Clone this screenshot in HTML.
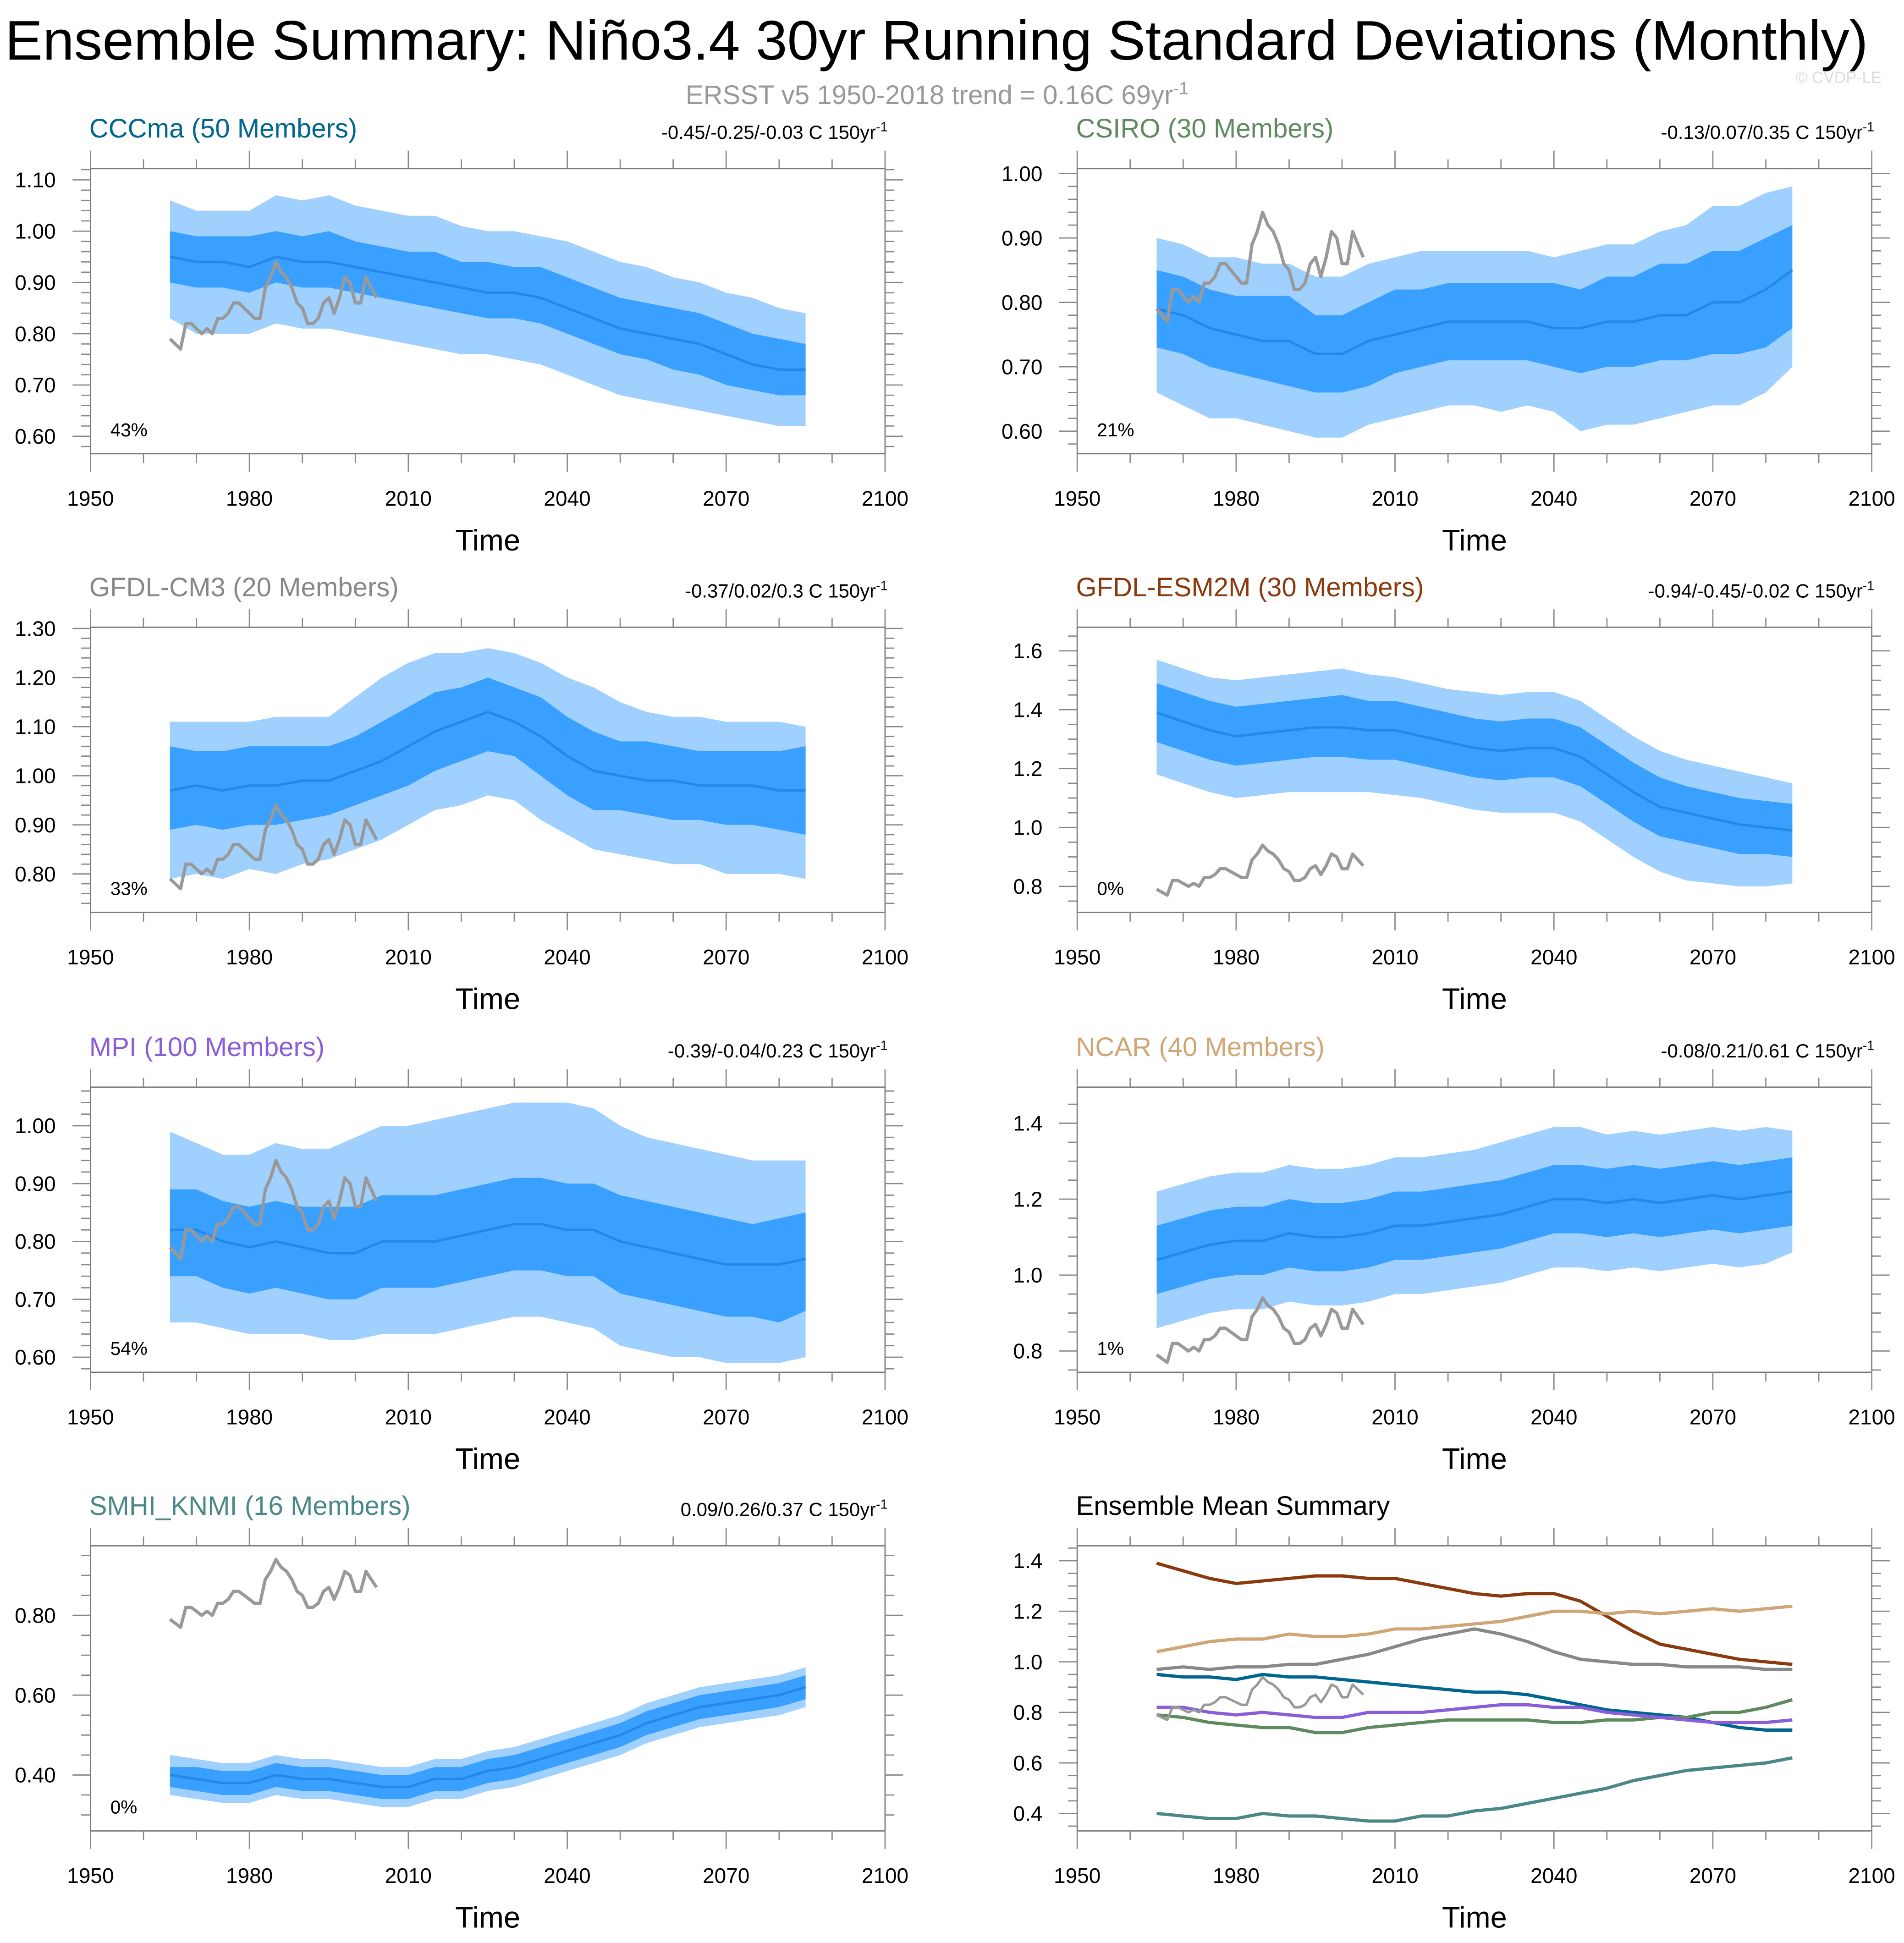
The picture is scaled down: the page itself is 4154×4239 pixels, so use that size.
<!DOCTYPE html>
<html><head><meta charset="utf-8"><style>
html,body{margin:0;padding:0;background:#fff;}
svg{display:block;font-family:"Liberation Sans",Arial,sans-serif;}
</style></head><body>
<svg id="chart" xmlns="http://www.w3.org/2000/svg" width="4154" height="4239" viewBox="0 0 1536 1567.4">
<rect x="0" y="0" width="1536" height="1567.4" fill="#fff"/>
<text x="4" y="48" font-size="45" fill="#000" textLength="1503" lengthAdjust="spacingAndGlyphs">Ensemble Summary: Niño3.4 30yr Running Standard Deviations (Monthly)</text>
<text x="756" y="84" font-size="21.5" fill="#999" text-anchor="middle">ERSST v5 1950-2018 trend = 0.16C 69yr<tspan dy="-8" font-size="14">-1</tspan></text>
<text x="1518" y="67" font-size="13" fill="#ddd" text-anchor="end">© CVDP-LE</text>
<g id="panels"></g>
</svg>
<script>
// shared data
const bandYears = [1965,1970,1975,1980,1985,1990,1995,2000,2005,2010,2015,2020,2025,2030,2035,2040,2045,2050,2055,2060,2065,2070,2075,2080,2085];
const obsYears = [1965,1966,1967,1968,1969,1970,1971,1972,1973,1974,1975,1976,1977,1978,1979,1980,1981,1982,1983,1984,1985,1986,1987,1988,1989,1990,1991,1992,1993,1994,1995,1996,1997,1998,1999,2000,2001,2002,2003,2004];
const obsValues = [.79,.78,.77,.82,.82,.81,.80,.81,.80,.83,.83,.84,.86,.86,.85,.84,.83,.83,.89,.91,.94,.92,.91,.89,.86,.85,.82,.82,.83,.86,.87,.84,.87,.91,.90,.86,.86,.91,.89,.87];
const xTickLabels = [1950,1980,2010,2040,2070,2100];

// CCCma
const cccmaMean = [.95,.94,.94,.93,.95,.94,.94,.93,.92,.91,.90,.89,.88,.88,.87,.85,.83,.81,.80,.79,.78,.76,.74,.73,.73];
const cccmaInHi = [1.00,.99,.99,.99,1.00,.99,1.00,.98,.97,.96,.96,.94,.94,.93,.93,.91,.89,.87,.86,.85,.84,.82,.80,.79,.78];
const cccmaInLo = [.90,.89,.89,.88,.90,.89,.89,.88,.87,.86,.85,.84,.83,.83,.82,.80,.78,.76,.75,.73,.72,.70,.69,.68,.68];
const cccmaOutHi = [1.06,1.04,1.04,1.04,1.07,1.06,1.07,1.05,1.04,1.03,1.03,1.01,1.00,1.00,.99,.98,.96,.94,.93,.91,.90,.88,.87,.85,.84];
const cccmaOutLo = [.83,.80,.80,.80,.82,.81,.81,.80,.79,.78,.77,.76,.76,.75,.74,.72,.70,.68,.67,.66,.65,.64,.63,.62,.62];
// CSIRO
const csiroMean = [.79,.78,.76,.75,.74,.74,.72,.72,.74,.75,.76,.77,.77,.77,.77,.76,.76,.77,.77,.78,.78,.80,.80,.82,.85];
const csiroInHi = [.85,.84,.82,.81,.81,.81,.78,.78,.80,.82,.82,.83,.83,.83,.83,.83,.82,.84,.84,.86,.86,.88,.88,.90,.92];
const csiroInLo = [.73,.72,.70,.69,.68,.67,.66,.66,.67,.69,.70,.71,.71,.71,.71,.70,.69,.70,.70,.71,.71,.72,.72,.73,.76];
const csiroOutHi = [.90,.89,.87,.87,.86,.86,.84,.84,.86,.87,.88,.88,.88,.88,.88,.87,.88,.89,.89,.91,.92,.95,.95,.97,.98];
const csiroOutLo = [.66,.64,.62,.62,.61,.60,.59,.59,.61,.62,.63,.64,.64,.63,.64,.63,.60,.61,.61,.62,.63,.64,.64,.66,.70];
// GFDL-CM3
const cm3Mean = [.97,.98,.97,.98,.98,.99,.99,1.01,1.03,1.06,1.09,1.11,1.13,1.11,1.08,1.04,1.01,1.00,.99,.99,.98,.98,.98,.97,.97];
const cm3InHi = [1.06,1.05,1.05,1.06,1.06,1.06,1.06,1.08,1.11,1.14,1.17,1.18,1.20,1.18,1.16,1.12,1.09,1.07,1.07,1.06,1.05,1.05,1.05,1.05,1.06];
const cm3InLo = [.89,.90,.89,.90,.90,.91,.92,.94,.96,.98,1.01,1.03,1.05,1.04,1.00,.96,.93,.93,.92,.91,.91,.90,.90,.89,.88];
const cm3OutHi = [1.11,1.11,1.11,1.11,1.12,1.12,1.12,1.16,1.20,1.23,1.25,1.25,1.26,1.25,1.23,1.20,1.18,1.15,1.13,1.12,1.12,1.11,1.11,1.11,1.10];
const cm3OutLo = [.79,.80,.79,.81,.80,.82,.83,.85,.87,.90,.93,.94,.96,.95,.91,.88,.85,.84,.83,.82,.82,.80,.80,.80,.79];
// GFDL-ESM2M
const esmMean = [1.39,1.36,1.33,1.31,1.32,1.33,1.34,1.34,1.33,1.33,1.31,1.29,1.27,1.26,1.27,1.27,1.24,1.18,1.12,1.07,1.05,1.03,1.01,1.00,.99];
const esmInHi = [1.49,1.46,1.43,1.41,1.42,1.43,1.44,1.45,1.43,1.43,1.41,1.39,1.37,1.36,1.37,1.37,1.34,1.28,1.22,1.17,1.14,1.12,1.10,1.09,1.08];
const esmInLo = [1.29,1.26,1.23,1.21,1.22,1.23,1.24,1.24,1.23,1.23,1.21,1.19,1.17,1.16,1.17,1.17,1.14,1.08,1.02,.97,.95,.93,.91,.91,.90];
const esmOutHi = [1.57,1.54,1.51,1.50,1.51,1.52,1.53,1.54,1.52,1.51,1.49,1.47,1.46,1.45,1.46,1.46,1.43,1.37,1.31,1.26,1.23,1.21,1.19,1.17,1.15];
const esmOutLo = [1.18,1.15,1.12,1.10,1.11,1.12,1.12,1.12,1.12,1.11,1.10,1.08,1.06,1.05,1.05,1.05,1.02,.96,.90,.85,.82,.81,.80,.80,.81];
// MPI
const mpiMean = [.82,.82,.80,.79,.80,.79,.78,.78,.80,.80,.80,.81,.82,.83,.83,.82,.82,.80,.79,.78,.77,.76,.76,.76,.77];
const mpiInHi = [.89,.89,.87,.86,.87,.86,.86,.86,.88,.88,.88,.89,.90,.91,.91,.90,.90,.88,.87,.86,.85,.84,.83,.84,.85];
const mpiInLo = [.74,.74,.72,.71,.72,.71,.70,.70,.72,.72,.72,.73,.74,.75,.75,.74,.74,.71,.70,.69,.68,.67,.67,.66,.68];
const mpiOutHi = [.99,.97,.95,.95,.97,.96,.96,.98,1.00,1.00,1.01,1.02,1.03,1.04,1.04,1.04,1.03,1.00,.98,.97,.96,.95,.94,.94,.94];
const mpiOutLo = [.66,.66,.65,.64,.64,.64,.63,.63,.64,.64,.64,.65,.66,.67,.67,.66,.65,.62,.61,.60,.60,.59,.59,.59,.60];
// NCAR
const ncarMean = [1.04,1.06,1.08,1.09,1.09,1.11,1.10,1.10,1.11,1.13,1.13,1.14,1.15,1.16,1.18,1.20,1.20,1.19,1.20,1.19,1.20,1.21,1.20,1.21,1.22];
const ncarInHi = [1.13,1.15,1.17,1.18,1.18,1.20,1.19,1.19,1.20,1.22,1.22,1.23,1.24,1.25,1.27,1.29,1.29,1.28,1.29,1.28,1.29,1.30,1.29,1.30,1.31];
const ncarInLo = [.95,.97,.99,1.00,1.00,1.02,1.01,1.01,1.02,1.04,1.04,1.05,1.06,1.07,1.09,1.11,1.11,1.10,1.11,1.10,1.11,1.12,1.11,1.12,1.13];
const ncarOutHi = [1.22,1.24,1.26,1.27,1.27,1.29,1.28,1.28,1.29,1.31,1.31,1.32,1.33,1.35,1.37,1.39,1.39,1.37,1.38,1.37,1.38,1.39,1.38,1.39,1.38];
const ncarOutLo = [.86,.88,.90,.91,.91,.93,.92,.92,.93,.95,.95,.96,.97,.98,1.00,1.02,1.02,1.01,1.02,1.01,1.02,1.03,1.02,1.03,1.06];
// SMHI_KNMI
const smhiMean = [.40,.39,.38,.38,.40,.39,.39,.38,.37,.37,.39,.39,.41,.42,.44,.46,.48,.50,.53,.55,.57,.58,.59,.60,.62];
const smhiInHi = [.42,.42,.41,.41,.43,.42,.42,.41,.40,.40,.42,.42,.44,.45,.47,.49,.51,.53,.56,.58,.60,.61,.62,.63,.65];
const smhiInLo = [.37,.36,.35,.35,.37,.36,.36,.35,.34,.34,.36,.36,.38,.39,.41,.43,.45,.47,.50,.52,.54,.55,.56,.57,.59];
const smhiOutHi = [.45,.44,.43,.43,.45,.44,.44,.43,.42,.42,.44,.44,.46,.47,.49,.51,.53,.55,.58,.60,.62,.63,.64,.65,.67];
const smhiOutLo = [.35,.34,.33,.33,.35,.34,.34,.33,.32,.32,.34,.34,.36,.37,.39,.41,.43,.45,.48,.50,.52,.53,.54,.55,.57];

const NS = "http://www.w3.org/2000/svg";
const root = document.getElementById('panels');
function mk(tag, attrs, parent){ const e=document.createElementNS(NS,tag); for(const k in attrs) e.setAttribute(k,attrs[k]); (parent||root).appendChild(e); return e; }

const panels = [
 {key:'cccma', title:'CCCma (50 Members)', color:'#00668f', x0:73, y0:136, ymin:0.566, ymax:1.122, ticks:[0.6,0.7,0.8,0.9,1.0,1.1], dec:2, minor:0.02, pct:'43%', trend:'-0.45/-0.25/-0.03 C 150yr', mean:cccmaMean, inHi:cccmaInHi, inLo:cccmaInLo, outHi:cccmaOutHi, outLo:cccmaOutLo},
 {key:'csiro', title:'CSIRO (30 Members)', color:'#5f8a5f', x0:869, y0:136, ymin:0.565, ymax:1.0077, ticks:[0.6,0.7,0.8,0.9,1.0], dec:2, minor:0.02, pct:'21%', trend:'-0.13/0.07/0.35 C 150yr', mean:csiroMean, inHi:csiroInHi, inLo:csiroInLo, outHi:csiroOutHi, outLo:csiroOutLo},
 {key:'gfdl-cm3', title:'GFDL-CM3 (20 Members)', color:'#888888', x0:73, y0:506, ymin:0.7217, ymax:1.3025, ticks:[0.8,0.9,1.0,1.1,1.2,1.3], dec:2, minor:0.02, pct:'33%', trend:'-0.37/0.02/0.3 C 150yr', mean:cm3Mean, inHi:cm3InHi, inLo:cm3InLo, outHi:cm3OutHi, outLo:cm3OutLo},
 {key:'gfdl-esm2m', title:'GFDL-ESM2M (30 Members)', color:'#8b3a0f', x0:869, y0:506, ymin:0.7116, ymax:1.68, ticks:[0.8,1.0,1.2,1.4,1.6], dec:1, minor:0.05, pct:'0%', trend:'-0.94/-0.45/-0.02 C 150yr', mean:esmMean, inHi:esmInHi, inLo:esmInLo, outHi:esmOutHi, outLo:esmOutLo},
 {key:'mpi', title:'MPI (100 Members)', color:'#8a5ed8', x0:73, y0:877, ymin:0.574, ymax:1.0667, ticks:[0.6,0.7,0.8,0.9,1.0], dec:2, minor:0.02, pct:'54%', trend:'-0.39/-0.04/0.23 C 150yr', mean:mpiMean, inHi:mpiInHi, inLo:mpiInLo, outHi:mpiOutHi, outLo:mpiOutLo},
 {key:'ncar', title:'NCAR (40 Members)', color:'#cfa777', x0:869, y0:877, ymin:0.744, ymax:1.495, ticks:[0.8,1.0,1.2,1.4], dec:1, minor:0.05, pct:'1%', trend:'-0.08/0.21/0.61 C 150yr', mean:ncarMean, inHi:ncarInHi, inLo:ncarInLo, outHi:ncarOutHi, outLo:ncarOutLo},
 {key:'smhi-knmi', title:'SMHI_KNMI (16 Members)', color:'#4a8888', x0:73, y0:1247, ymin:0.26, ymax:0.974, ticks:[0.4,0.6,0.8], dec:2, minor:0.05, pct:'0%', trend:'0.09/0.26/0.37 C 150yr', mean:smhiMean, inHi:smhiInHi, inLo:smhiInLo, outHi:smhiOutHi, outLo:smhiOutLo},
 {key:'summary', title:'Ensemble Mean Summary', color:'#000', x0:869, y0:1247, ymin:0.331, ymax:1.459, ticks:[0.4,0.6,0.8,1.0,1.2,1.4], dec:1, minor:0.05, summary:true}
];
const W=641, H=230, XMIN=1950, XMAX=2100;

function drawPanel(p){
  const g = mk('g',{});
  
  
  const xs = v => p.x0 + (v-XMIN)/(XMAX-XMIN)*W;
  const ys = v => p.y0 + H - (v-p.ymin)/(p.ymax-p.ymin)*H;
  const line = (xa,ya) => xa.map((x,i)=>(i?'L':'M')+xs(x).toFixed(2)+','+ys(ya[i]).toFixed(2)).join('');
  const band = (lo,hi) => {
    let d = bandYears.map((x,i)=>(i?'L':'M')+xs(x).toFixed(2)+','+ys(hi[i]).toFixed(2)).join('');
    for(let i=bandYears.length-1;i>=0;i--) d += 'L'+xs(bandYears[i]).toFixed(2)+','+ys(lo[i]).toFixed(2);
    return d+'Z';
  };
  const t = mk('text',{x:p.x0-1, y:p.y0-25, 'font-size':21.5, fill:p.color},g);
  t.textContent = p.title;
  
  
  if(p.trend){
    const tr = mk('text',{x:p.x0+W+2, y:p.y0-24, 'font-size':15.5, fill:'#000','text-anchor':'end'},g);
    
    
    tr.appendChild(document.createTextNode(p.trend));
    const sup = mk('tspan',{dy:-6,'font-size':10.5},tr); sup.textContent='-1';
  }
  if(!p.summary){
    const ob = mk('path',{d:band(p.outLo,p.outHi), fill:'#a0d0fe'},g);
    
    
    const ib = mk('path',{d:band(p.inLo,p.inHi), fill:'#3aa0ff'},g);
    
    
    const ml = mk('path',{d:line(bandYears,p.mean), fill:'none', stroke:'#2388e8','stroke-width':2},g);
    
    
  } else {
    panels.filter(q=>!q.summary).forEach(q=>{
      const l = mk('path',{d:line(bandYears,q.mean), fill:'none', stroke:q.color,'stroke-width':2.6},g);
      
      
    });
  }
  const obs = mk('path',{d:line(obsYears,obsValues), fill:'none', stroke:'#999','stroke-width':p.summary?2:2.6,'stroke-linejoin':'round'},g);
  
  
  const box = mk('rect',{x:p.x0, y:p.y0, width:W, height:H, fill:'none', stroke:'#777','stroke-width':1},g);
  
  
  let td='';
  for(let yr=1950; yr<=2100; yr+=10){
    const L = (yr%30===0)?14.5:7.5, x=xs(yr);
    td += `M${x},${p.y0}v${-L}M${x},${p.y0+H}v${L}`;
  }
  const n0=Math.ceil(p.ymin/p.minor-1e-6), n1=Math.floor(p.ymax/p.minor+1e-6);
  for(let k=n0;k<=n1;k++){
    const v=k*p.minor; const major=p.ticks.some(t=>Math.abs(t-v)<1e-6);
    const L = major?14.5:7.5, y=ys(v);
    td += `M${p.x0},${y}h${-L}M${p.x0+W},${y}h${L}`;
  }
  const tk = mk('path',{d:td, stroke:'#888','stroke-width':1, fill:'none'},g);
  
  
  p.ticks.forEach(v=>{
    const e = mk('text',{x:p.x0-28, y:ys(v)+6, 'font-size':17, 'text-anchor':'end', fill:'#000'},g);
    e.textContent = v.toFixed(p.dec);
    
    
  });
  xTickLabels.forEach(v=>{
    const e = mk('text',{x:xs(v), y:p.y0+H+42, 'font-size':17, 'text-anchor':'middle', fill:'#000'},g);
    e.textContent = v;
    
    
  });
  const xt = mk('text',{x:p.x0+W/2, y:p.y0+H+78, 'font-size':24, 'text-anchor':'middle', fill:'#000'},g);
  xt.textContent='Time';
  
  
  if(p.pct){
    const pc = mk('text',{x:p.x0+16, y:p.y0+H-14, 'font-size':15, fill:'#000'},g);
    pc.textContent=p.pct;
    
    
  }
}
panels.forEach(drawPanel);
</script>
</body></html>
